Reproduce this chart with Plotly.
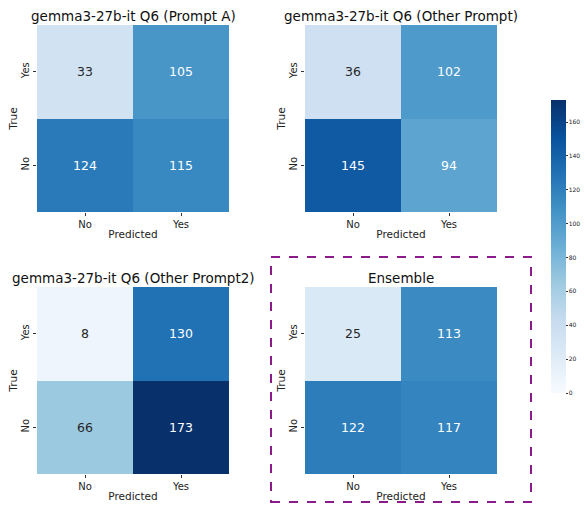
import plotly.graph_objects as go

# ---- data ----
pred_labels = ["No", "Yes"]
true_labels = ["Yes", "No"]  # top row to bottom row
titles = [
    "gemma3-27b-it Q6 (Prompt A)",
    "gemma3-27b-it Q6 (Other Prompt)",
    "gemma3-27b-it Q6 (Other Prompt2)",
    "Ensemble",
]
cm_prompt_a = [[33, 105], [124, 115]]
cm_other = [[36, 102], [145, 94]]
cm_other2 = [[8, 130], [66, 173]]
cm_ensemble = [[25, 113], [122, 117]]
matrices = [cm_prompt_a, cm_other, cm_other2, cm_ensemble]
cbar_ticks = [0, 20, 40, 60, 80, 100, 120, 140, 160]

W, H = 585, 507
blues = ["#f7fbff", "#deebf7", "#c6dbef", "#9ecae1", "#6baed6",
         "#4292c6", "#2171b5", "#08519c", "#08306b"]
colorscale = [[i / 8, c] for i, c in enumerate(blues)]
zmin, zmax = 0, max(max(max(r) for r in m) for m in matrices)


def hex2rgb(h):
    return [int(h[i:i + 2], 16) / 255 for i in (1, 3, 5)]


def color_at(v):
    t = (v - zmin) / (zmax - zmin) * 8
    i = min(int(t), 7)
    f = t - i
    a, b = hex2rgb(blues[i]), hex2rgb(blues[i + 1])
    return [a[k] + (b[k] - a[k]) * f for k in range(3)]


def lum(rgb):
    out = []
    for c in rgb:
        out.append(c / 12.92 if c <= 0.03928 else ((c + 0.055) / 1.055) ** 2.4)
    return 0.2126 * out[0] + 0.7152 * out[1] + 0.0722 * out[2]


# pixel boxes of the heatmaps: (x0, x1, y0, y1) from top
boxes = [(37, 229, 25, 212), (305, 497, 25, 212),
         (37, 229, 287, 474), (305, 497, 287, 474)]

FONT = "DejaVu Sans"
fig = go.Figure()
annotations = []
for k, (m, title, box) in enumerate(zip(matrices, titles, boxes)):
    n = k + 1
    xa = "x" if n == 1 else f"x{n}"
    ya = "y" if n == 1 else f"y{n}"
    fig.add_trace(go.Heatmap(
        z=m, x=pred_labels, y=true_labels, xaxis=xa, yaxis=ya,
        colorscale=colorscale, zmin=zmin, zmax=zmax,
        showscale=(n == 1),
        colorbar=dict(
            x=551 / W, xanchor="left", xpad=0, ypad=0,
            y=1 - 246.5 / H, yanchor="middle",
            len=293 / H, lenmode="fraction", thickness=15,
            outlinewidth=0, tickvals=cbar_ticks, ticks="outside",
            ticklen=2, tickwidth=0.6, tickcolor="#333",
            tickfont=dict(size=6, family=FONT, color="#222"),
        ) if n == 1 else None,
        hoverinfo="z",
    ))
    x0, x1, y0, y1 = box
    xkey = "xaxis" if n == 1 else f"xaxis{n}"
    ykey = "yaxis" if n == 1 else f"yaxis{n}"
    fig.layout[xkey] = dict(
        domain=[x0 / W, x1 / W], anchor=ya, showgrid=False, zeroline=False,
        ticks="outside", ticklen=3, tickcolor="#333", tickwidth=0.8,
        tickfont=dict(size=10, family=FONT, color="#222"),
        title=dict(text="Predicted", standoff=1,
                   font=dict(size=10.5, family=FONT, color="#222")),
        showline=False,
    )
    fig.layout[ykey] = dict(
        domain=[1 - y1 / H, 1 - y0 / H], anchor=xa, showgrid=False,
        zeroline=False, autorange="reversed",
        ticks="outside", ticklen=3, tickcolor="#333", tickwidth=0.8,
        tickangle=-90,
        tickfont=dict(size=10, family=FONT, color="#222"),
        title=dict(text="True", standoff=0,
                   font=dict(size=10.5, family=FONT, color="#222")),
        showline=False,
    )
    annotations.append(dict(
        text=title, xref="paper", yref="paper",
        x=(x0 + x1) / 2 / W, y=1 - (y0 + 1) / H, xanchor="center",
        yanchor="bottom", showarrow=False,
        font=dict(size=13.5, family=FONT, color="#111"),
    ))
    for i, row in enumerate(m):
        for j, v in enumerate(row):
            col = "#262626" if lum(color_at(v)) > 0.408 else "#ffffff"
            annotations.append(dict(
                text=str(v), xref=xa, yref=ya, x=pred_labels[j],
                y=true_labels[i], showarrow=False,
                font=dict(size=12.5, family=FONT, color=col),
            ))

fig.update_layout(
    width=W, height=H,
    margin=dict(l=0, r=0, t=0, b=0, autoexpand=False),
    paper_bgcolor="white", plot_bgcolor="white",
    annotations=annotations,
    shapes=[dict(type="rect", xref="paper", yref="paper",
                 x0=271 / W, x1=531 / W, y0=1 - 502 / H, y1=1 - 257 / H,
                 line=dict(color="#8b1a8b", width=2, dash="dash"),
                 fillcolor="rgba(0,0,0,0)")],
    font=dict(family=FONT),
)
fig.write_html("out.html")
